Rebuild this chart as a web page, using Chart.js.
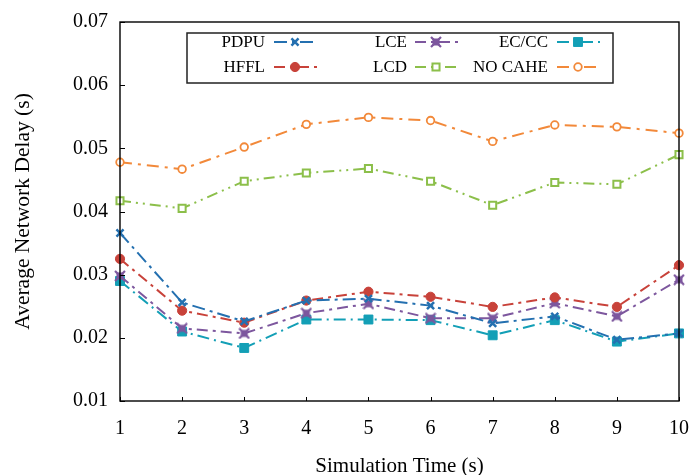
<!DOCTYPE html>
<html>
<head>
<meta charset="utf-8">
<script src="https://cdn.jsdelivr.net/npm/chart.js@4.4.0/dist/chart.umd.min.js"></script>
<style>
html,body{margin:0;padding:0;background:#fff;}
#wrap{width:691px;height:475px;}
</style>
</head>
<body>
<div id="wrap"><canvas id="c" width="691" height="475"></canvas></div>
<script>
const categories = [1, 2, 3, 4, 5, 6, 7, 8, 9, 10];
const yTicks = [0.01, 0.02, 0.03, 0.04, 0.05, 0.06, 0.07];
const seriesNames = ['PDPU', 'HFFL', 'LCE', 'LCD', 'EC/CC', 'NO CAHE'];
const pdpu   = [0.0366, 0.0256, 0.0226, 0.0259, 0.0262, 0.0251, 0.0223, 0.0234, 0.0197, 0.0207];
const hffl   = [0.0325, 0.0243, 0.0224, 0.0259, 0.0273, 0.0265, 0.0249, 0.0264, 0.0249, 0.0315];
const lce    = [0.0298, 0.0215, 0.0207, 0.0239, 0.0254, 0.0231, 0.0231, 0.0255, 0.0234, 0.0292];
const lcd    = [0.0417, 0.0405, 0.0448, 0.0461, 0.0468, 0.0448, 0.0410, 0.0446, 0.0443, 0.0490];
const eccc   = [0.0290, 0.0210, 0.0184, 0.0229, 0.0229, 0.0228, 0.0204, 0.0228, 0.0194, 0.0207];
const nocahe = [0.0478, 0.0467, 0.0502, 0.0538, 0.0549, 0.0544, 0.0511, 0.0537, 0.0534, 0.0524];

const FONT = '"Liberation Serif", "Times New Roman", serif';

// custom marker for LCE: filled square with an x through it
function lceMarker(color) {
  const c = document.createElement('canvas');
  c.width = 12; c.height = 12;
  const g = c.getContext('2d');
  g.fillStyle = color;
  g.fillRect(2.5, 2.5, 7, 7);
  g.strokeStyle = color;
  g.lineWidth = 2.2;
  g.beginPath();
  g.moveTo(1, 1); g.lineTo(11, 11);
  g.moveTo(11, 1); g.lineTo(1, 11);
  g.stroke();
  return c;
}

function ds(label, data, color, style, radius, fill, dash, bw) {
  return {
    label, data,
    borderColor: color,
    backgroundColor: fill,
    borderWidth: 2,
    borderDash: dash,
    pointStyle: style,
    pointRadius: radius,
    pointHoverRadius: radius,
    pointBorderColor: color,
    pointBackgroundColor: fill,
    pointBorderWidth: bw,
    tension: 0,
    fill: false
  };
}

const datasets = [
  ds(seriesNames[0], pdpu,   '#2470b0', 'crossRot', 5, '#2470b0', [13, 5, 3, 5], 2.5),
  ds(seriesNames[1], hffl,   '#c8423a', 'circle',   4.6, '#c8423a', [11, 5, 3, 5], 1),
  ds(seriesNames[2], lce,    '#7d579e', lceMarker('#7d579e'), 5, '#7d579e', [11, 5, 3, 5], 1),
  ds(seriesNames[3], lcd,    '#8cbf4a', 'rect',     5, '#ffffff', [11, 5, 2, 5, 2, 5], 2),
  ds(seriesNames[4], eccc,   '#139fb6', 'rect',     6.3, '#139fb6', [12, 5, 2, 5], 1),
  ds(seriesNames[5], nocahe, '#f2893a', 'circle',   3.8, '#ffffff', [12, 6, 3, 6], 1.8)
];

const framePlugin = {
  id: 'frame',
  afterDatasetsDraw(chart) {
    const {ctx, chartArea: a, scales} = chart;
    ctx.save();
    ctx.strokeStyle = '#000';
    ctx.lineWidth = 1.4;
    ctx.setLineDash([]);
    ctx.strokeRect(a.left, a.top, a.right - a.left, a.bottom - a.top);
    ctx.lineWidth = 1;
    yTicks.forEach(v => {
      const y = Math.round(scales.y.getPixelForValue(v)) + 0.5;
      ctx.beginPath(); ctx.moveTo(a.left, y); ctx.lineTo(a.left + 5, y); ctx.stroke();
    });
    categories.forEach((c, i) => {
      const x = Math.round(scales.x.getPixelForValue(i)) + 0.5;
      ctx.beginPath(); ctx.moveTo(x, a.bottom); ctx.lineTo(x, a.bottom - 4); ctx.stroke();
    });
    // legend
    const bx = 187, by = 33, bw = 426, bh = 50;
    ctx.fillStyle = '#fff';
    ctx.fillRect(bx, by, bw, bh);
    ctx.strokeStyle = '#222';
    ctx.lineWidth = 1.5;
    ctx.strokeRect(bx, by, bw, bh);
    const cols = [{lx: 265, sx: 274}, {lx: 407, sx: 415}, {lx: 548, sx: 557}];
    const rows = [42, 67];
    ctx.font = '17px ' + FONT;
    ctx.textAlign = 'right';
    ctx.textBaseline = 'middle';
    chart.data.datasets.forEach((d, i) => {
      const col = cols[Math.floor(i / 2)];
      const y = rows[i % 2];
      ctx.fillStyle = '#000';
      ctx.fillText(d.label, col.lx, y + 1);
      ctx.save();
      ctx.strokeStyle = d.borderColor;
      ctx.lineWidth = 2;
      ctx.setLineDash(d.borderDash);
      ctx.beginPath(); ctx.moveTo(col.sx, y); ctx.lineTo(col.sx + 44, y); ctx.stroke();
      ctx.setLineDash([]);
      ctx.strokeStyle = d.pointBorderColor;
      ctx.fillStyle = d.pointBackgroundColor;
      ctx.lineWidth = d.pointBorderWidth;
      Chart.helpers.drawPoint(ctx, {pointStyle: d.pointStyle, radius: d.pointRadius, borderWidth: d.pointBorderWidth, rotation: 0}, col.sx + 21, y);
      ctx.restore();
    });
    ctx.restore();
  }
};

new Chart(document.getElementById('c'), {
  type: 'line',
  data: { labels: categories.map(String), datasets },
  options: {
    responsive: false,
    animation: false,
    devicePixelRatio: 1,
    layout: { padding: { left: 0, right: 12, top: 22, bottom: 0 } },
    plugins: { legend: { display: false }, tooltip: { enabled: false } },
    scales: {
      x: {
        type: 'category',
        offset: false,
        grid: { display: false, drawTicks: false },
        border: { display: false },
        ticks: { color: '#000', font: { family: FONT, size: 20 }, padding: 16, maxRotation: 0, autoSkip: false },
        title: { display: true, text: 'Simulation Time (s)', color: '#000', font: { family: FONT, size: 21 }, padding: { top: 0, bottom: -4 } },
        afterFit(s) { s.height = 74; s.paddingLeft = 0; s.paddingRight = 0; }
      },
      y: {
        type: 'linear',
        min: 0.01, max: 0.07,
        afterBuildTicks(s) { s.ticks = yTicks.map(v => ({ value: v })); },
        grid: { display: false, drawTicks: false },
        border: { display: false },
        ticks: { color: '#000', font: { family: FONT, size: 20 }, padding: 12, callback: v => Number(v).toFixed(2) },
        title: { display: true, text: 'Average Network Delay (s)', color: '#000', font: { family: FONT, size: 21.5 }, padding: { top: 10, bottom: 0 } },
        afterFit(s) { s.width = 120; s.paddingTop = 0; s.paddingBottom = 0; }
      }
    }
  },
  plugins: [framePlugin]
});
</script>
</body>
</html>
